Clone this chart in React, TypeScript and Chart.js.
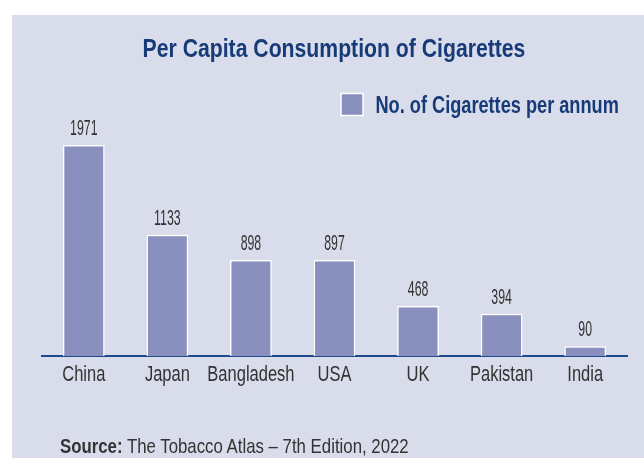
import { useEffect, useRef } from "react";
import { Chart, registerables } from "chart.js";

Chart.register(...registerables);

const categories = ["China", "Japan", "Bangladesh", "USA", "UK", "Pakistan", "India"];
const cigarettesPerAnnum = [1971, 1133, 898, 897, 468, 394, 90];
const seriesLabel = "No. of Cigarettes per annum";
const titleText = "Per Capita Consumption of Cigarettes";
const sourceLabel = "Source:";
const sourceText = "The Tobacco Atlas – 7th Edition, 2022";

const FONT = '"Liberation Sans", Arial, Helvetica, sans-serif';
const NAVY = "#173a78";
const BAR = "#8990bd";
const PANEL = "#d9dcea";
const TEXT = "#333333";

function drawCondensed(ctx: CanvasRenderingContext2D, text: string, x: number, y: number, scaleX: number, align: CanvasTextAlign) {
  ctx.save();
  ctx.translate(x, y);
  ctx.scale(scaleX, 1);
  ctx.textAlign = align;
  ctx.textBaseline = "alphabetic";
  ctx.fillText(text, 0, 0);
  ctx.restore();
}

const textPlugin = {
  id: "condensedText",
  afterDatasetsDraw(chart: any) {
    const ctx = chart.ctx as CanvasRenderingContext2D;
    const area = chart.chartArea;
    const meta = chart.getDatasetMeta(0);
    const data = chart.data.datasets[0].data as number[];
    const xScale = chart.scales.x;

    ctx.save();
    // value labels above bars
    ctx.font = `22px ${FONT}`;
    ctx.fillStyle = TEXT;
    meta.data.forEach((bar: any, i: number) => {
      const { x, y } = bar.getProps(["x", "y"], true);
      drawCondensed(ctx, String(data[i]), x, y - 10, 0.56, "center");
    });

    // category labels
    ctx.font = `22px ${FONT}`;
    ctx.fillStyle = TEXT;
    (chart.data.labels as string[]).forEach((lab, i) => {
      drawCondensed(ctx, lab, xScale.getPixelForValue(i), area.bottom + 25, 0.75, "center");
    });

    // title
    ctx.font = `bold 25px ${FONT}`;
    ctx.fillStyle = NAVY;
    drawCondensed(ctx, titleText, 322, 41.5, 0.848, "center");

    // legend
    ctx.fillStyle = BAR;
    ctx.fillRect(329, 78.5, 22, 22);
    ctx.strokeStyle = "#ffffff";
    ctx.lineWidth = 1.5;
    ctx.strokeRect(329, 78.5, 22, 22);
    ctx.font = `bold 23px ${FONT}`;
    ctx.fillStyle = NAVY;
    drawCondensed(ctx, chart.data.datasets[0].label, 363.5, 98.3, 0.79, "left");
    ctx.restore();
  },
};

export default function App() {
  const ref = useRef<HTMLCanvasElement | null>(null);

  useEffect(() => {
    if (!ref.current) return;
    const chart = new Chart(ref.current, {
      type: "bar",
      data: {
        labels: categories,
        datasets: [
          {
            label: seriesLabel,
            data: cigarettesPerAnnum,
            backgroundColor: BAR,
            borderColor: "#ffffff",
            borderWidth: { top: 1.5, left: 1.5, right: 1.5, bottom: 0 },
            borderSkipped: "bottom",
            barPercentage: 0.5,
            categoryPercentage: 1,
          },
        ],
      },
      options: {
        animation: false,
        responsive: true,
        maintainAspectRatio: false,
        layout: { padding: { left: 30, right: 17, top: 127, bottom: 102 } },
        plugins: {
          title: { display: false },
          legend: { display: false },
          tooltip: { enabled: false },
        },
        scales: {
          x: {
            grid: { display: false, drawTicks: false },
            border: { display: true, color: "#1d4a8c", width: 2 },
            ticks: { display: false },
          },
          y: {
            display: false,
            min: 0,
            max: 2000,
          },
        },
      },
      plugins: [textPlugin],
    });
    return () => chart.destroy();
  }, []);

  return (
    <div
      style={{
        position: "absolute",
        left: 12,
        top: 15,
        width: 632,
        height: 443,
        background: PANEL,
        overflow: "hidden",
      }}
    >
      <div style={{ position: "absolute", left: 0, top: 0, width: 632, height: 443 }}>
        <canvas ref={ref} />
      </div>
      <div
        style={{
          position: "absolute",
          left: 48,
          top: 420,
          fontFamily: FONT,
          fontSize: 21,
          lineHeight: "21px",
          color: TEXT,
          whiteSpace: "nowrap",
          transform: "scaleX(0.8)",
          transformOrigin: "left top",
        }}
      >
        <b>{sourceLabel}</b> {sourceText}
      </div>
    </div>
  );
}
